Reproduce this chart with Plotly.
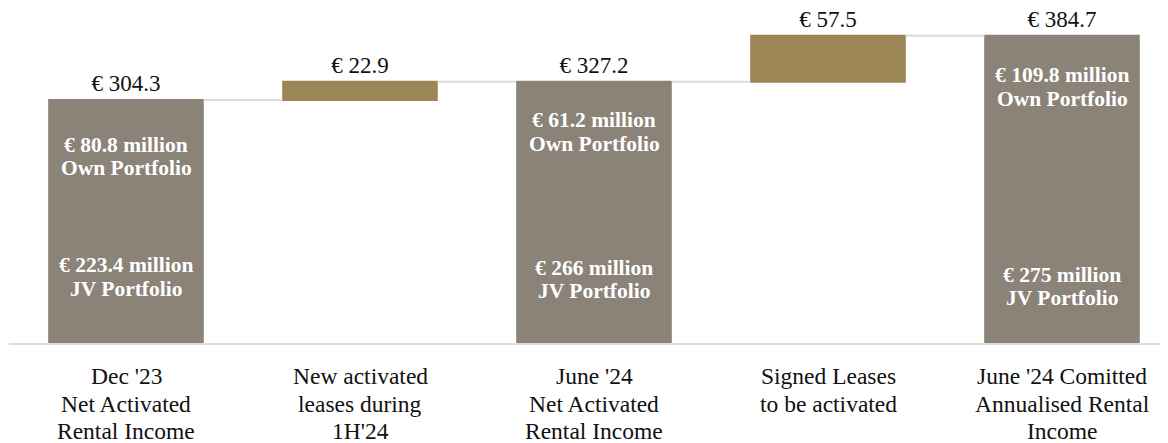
import plotly.graph_objects as go

categories = ["Dec '23", "New activated", "June '24", "Signed Leases", "June '24 Comitted"]
category_lines = [
    ["Dec '23", "Net Activated", "Rental Income"],
    ["New activated", "leases during", "1H'24"],
    ["June '24", "Net Activated", "Rental Income"],
    ["Signed Leases", "to be activated"],
    ["June '24 Comitted", "Annualised Rental", "Income"],
]
measures = ["absolute", "relative", "total", "relative", "total"]
values = [304.3, 22.9, 0, 57.5, 0]
value_labels = ["€ 304.3", "€ 22.9", "€ 327.2", "€ 57.5", "€ 384.7"]

own_portfolio = ["80.8", None, "61.2", None, "109.8"]
jv_portfolio = ["223.4", None, "266", None, "275"]

# pixel positions (page) of inside text lines
own_line_px = [(145, 168), None, (120, 143.5), None, (75, 98.5)]
jv_line_px = [(265, 288.5), None, (267.5, 290.5), None, (274.5, 298)]
cat_line_px = [376, 404, 431]
PLOT_BOTTOM = 343

GREY = "#8B8378"
GOLD = "#9C8655"
SERIF = "Liberation Serif"

fig = go.Figure()
fig.add_trace(go.Waterfall(
    x=categories,
    y=values,
    measure=measures,
    text=value_labels,
    textposition="outside",
    textfont=dict(family=SERIF, size=23, color="#111111"),
    cliponaxis=False,
    width=0.665,
    connector=dict(line=dict(color="#DCDCDC", width=2)),
    increasing=dict(marker=dict(color=GOLD)),
    decreasing=dict(marker=dict(color=GOLD)),
    totals=dict(marker=dict(color=GREY)),
    hoverinfo="skip",
))


def add_line(cat, text, py, size, bold=False, color="white"):
    fig.add_annotation(
        x=cat, y=0, xref="x", yref="paper",
        yshift=PLOT_BOTTOM - py, yanchor="middle",
        text=f"<b>{text}</b>" if bold else text,
        showarrow=False, align="center",
        font=dict(family=SERIF, size=size, color=color),
    )


for i, cat in enumerate(categories):
    if own_portfolio[i] is not None:
        add_line(cat, f"€ {own_portfolio[i]} million", own_line_px[i][0], 21.5, True)
        add_line(cat, "Own Portfolio", own_line_px[i][1], 21.5, True)
        add_line(cat, f"€ {jv_portfolio[i]} million", jv_line_px[i][0], 21.5, True)
        add_line(cat, "JV Portfolio", jv_line_px[i][1], 21.5, True)
    for j, line in enumerate(category_lines[i]):
        add_line(cat, line, cat_line_px[j], 23.5, False, "#111111")

fig.update_layout(
    width=1160, height=435,
    margin=dict(l=1, r=0, t=0, b=100),
    plot_bgcolor="white", paper_bgcolor="white",
    showlegend=False,
    xaxis=dict(
        type="category",
        range=[-0.5, 4.453],
        showline=True, linecolor="#DCDCDC", linewidth=2,
        showticklabels=False, ticks="",
        showgrid=False, zeroline=False,
    ),
    yaxis=dict(
        range=[0, 419.5], visible=False, showgrid=False, zeroline=False,
    ),
)

fig.write_html("out.html")
